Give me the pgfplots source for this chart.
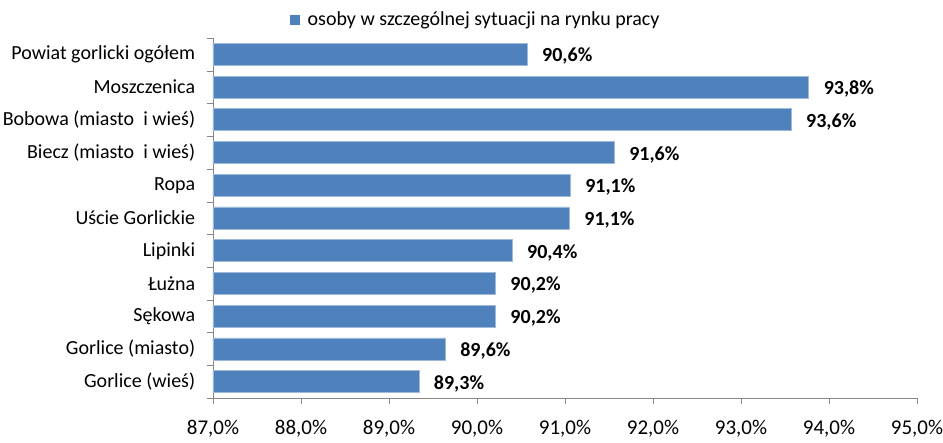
\documentclass[border=0pt]{standalone}
\usepackage{fontspec}
\setmainfont{Carlito}
\usepackage{pgfplots}
\pgfplotsset{compat=1.18}
\definecolor{barblue}{HTML}{4F81BD}
\definecolor{axgray}{HTML}{868686}

\begin{document}
\fontsize{20}{24}\selectfont
\begin{tikzpicture}
\useasboundingbox (-213pt,-45pt) rectangle (730pt,398pt);
\begin{axis}[
    at={(0,0)}, anchor=south west,
    scale only axis,
    width=704pt, height=360pt,
    xbar, bar width=22pt,
    xmin=87, xmax=95,
    xtick={87,88,...,95},
    ymin=-0.5, ymax=10.5,
    ytick={0,1,...,10},
    yticklabels={Gorlice (wieś), Gorlice (miasto), Sękowa, Łużna, Lipinki,
        Uście Gorlickie, Ropa, Biecz (miasto\ \ i wieś), Bobowa (miasto\ \ i wieś),
        Moszczenica, Powiat gorlicki ogółem},
    minor ytick={-0.5,0.5,...,10.5},
    every major y tick/.append style={draw=none},
    axis lines*=left,
    axis line style={axgray, -},
    tick style={axgray},
    tick align=outside,
    major tick length=6pt, minor tick length=6pt,
    /pgf/number format/assume math mode=true,
    xticklabel={\pgfmathprintnumber[fixed,fixed zerofill,precision=1,use comma]{\tick}\%},
    xticklabel style={font=\fontsize{21}{25}\selectfont, yshift=-9pt},
    yticklabel style={xshift=-5pt},
    point meta=x,
    nodes near coords={\pgfmathprintnumber[fixed,fixed zerofill,precision=1,use comma]{\pgfplotspointmeta}\%},
    every node near coord/.append style={font=\bfseries, anchor=west, xshift=8pt, yshift=-2pt},
    legend style={draw=none, fill=none, at={(rel axis cs:0.373,1.05)}, anchor=center},
    legend image code/.code={\fill[barblue, draw=none] (0pt,-5pt) rectangle (10pt,5pt);
        \path[draw=none, fill=none] (0pt,0pt) -- (16pt,0pt);},
]
\addplot[fill=barblue, draw=barblue!55!white, line width=0.7pt] coordinates {
    (89.34,0) (89.64,1) (90.21,2) (90.21,3) (90.40,4) (91.05,5)
    (91.06,6) (91.56,7) (93.57,8) (93.77,9) (90.57,10)
};
\addlegendentry{osoby w szczególnej sytuacji na rynku pracy}
\end{axis}
\end{tikzpicture}
\end{document}
